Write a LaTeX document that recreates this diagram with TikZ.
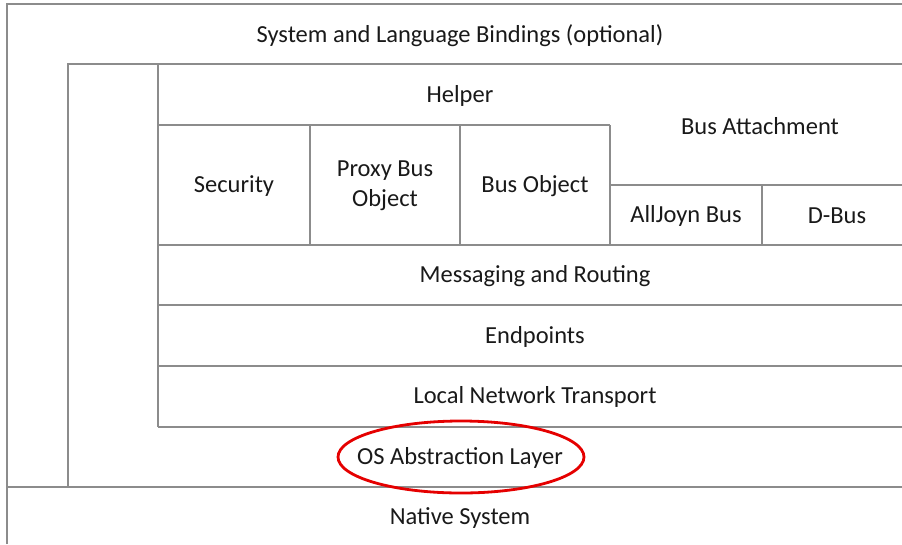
\documentclass[tikz,border=0pt]{standalone}
\usepackage{fontspec}
\setmainfont{Carlito}
\begin{document}
\begin{tikzpicture}[x=1pt,y=-1pt,
  grid/.style={draw=black!45,line width=1.1pt},
  lbl/.style={font=\fontsize{24.5}{30}\selectfont,text=black!90,align=center,inner sep=0pt},
  hl/.style={draw=red!90!black,line width=2.8pt}]
\useasboundingbox (0,0) rectangle (902,544);
% outer frame
\draw[grid] (7,544) -- (7,4) -- (902,4);
\draw[grid] (68,487) -- (68,64) -- (902,64);
\draw[grid] (158,427) -- (158,64);
\draw[grid] (158,125) -- (610,125);
\draw[grid] (610,185) -- (902,185);
\draw[grid] (310,125) -- (310,245);
\draw[grid] (460,125) -- (460,245);
\draw[grid] (610,125) -- (610,245);
\draw[grid] (762,185) -- (762,245);
\draw[grid] (158,245) -- (902,245);
\draw[grid] (158,305) -- (902,305);
\draw[grid] (158,366) -- (902,366);
\draw[grid] (158,427) -- (902,427);
\draw[grid] (7,487) -- (902,487);
% labels
\node[lbl] (bind) at (460,36) {System and Language Bindings (optional)};
\node[lbl] (helper) at (460,96) {Helper};
\node[lbl] (busatt) at (760,126) {Bus Attachment};
\node[lbl] (sec) at (234,186) {Security};
\node[lbl] (proxy) at (385,186) {Proxy Bus\\Object};
\node[lbl] (busobj) at (535,186) {Bus Object};
\node[lbl] (alljoyn) at (686,216) {AllJoyn Bus};
\node[lbl] (dbus) at (837,216) {D-Bus};
\node[lbl] (msg) at (535,276) {Messaging and Routing};
\node[lbl] (endp) at (535,337) {Endpoints};
\node[lbl] (lnt) at (535,397) {Local Network Transport};
\node[lbl] (osal) at (460,458) {OS Abstraction Layer};
\node[lbl] (native) at (460,518) {Native System};
\draw[hl] (461,457) ellipse [x radius=123, y radius=36];
\end{tikzpicture}
\end{document}
